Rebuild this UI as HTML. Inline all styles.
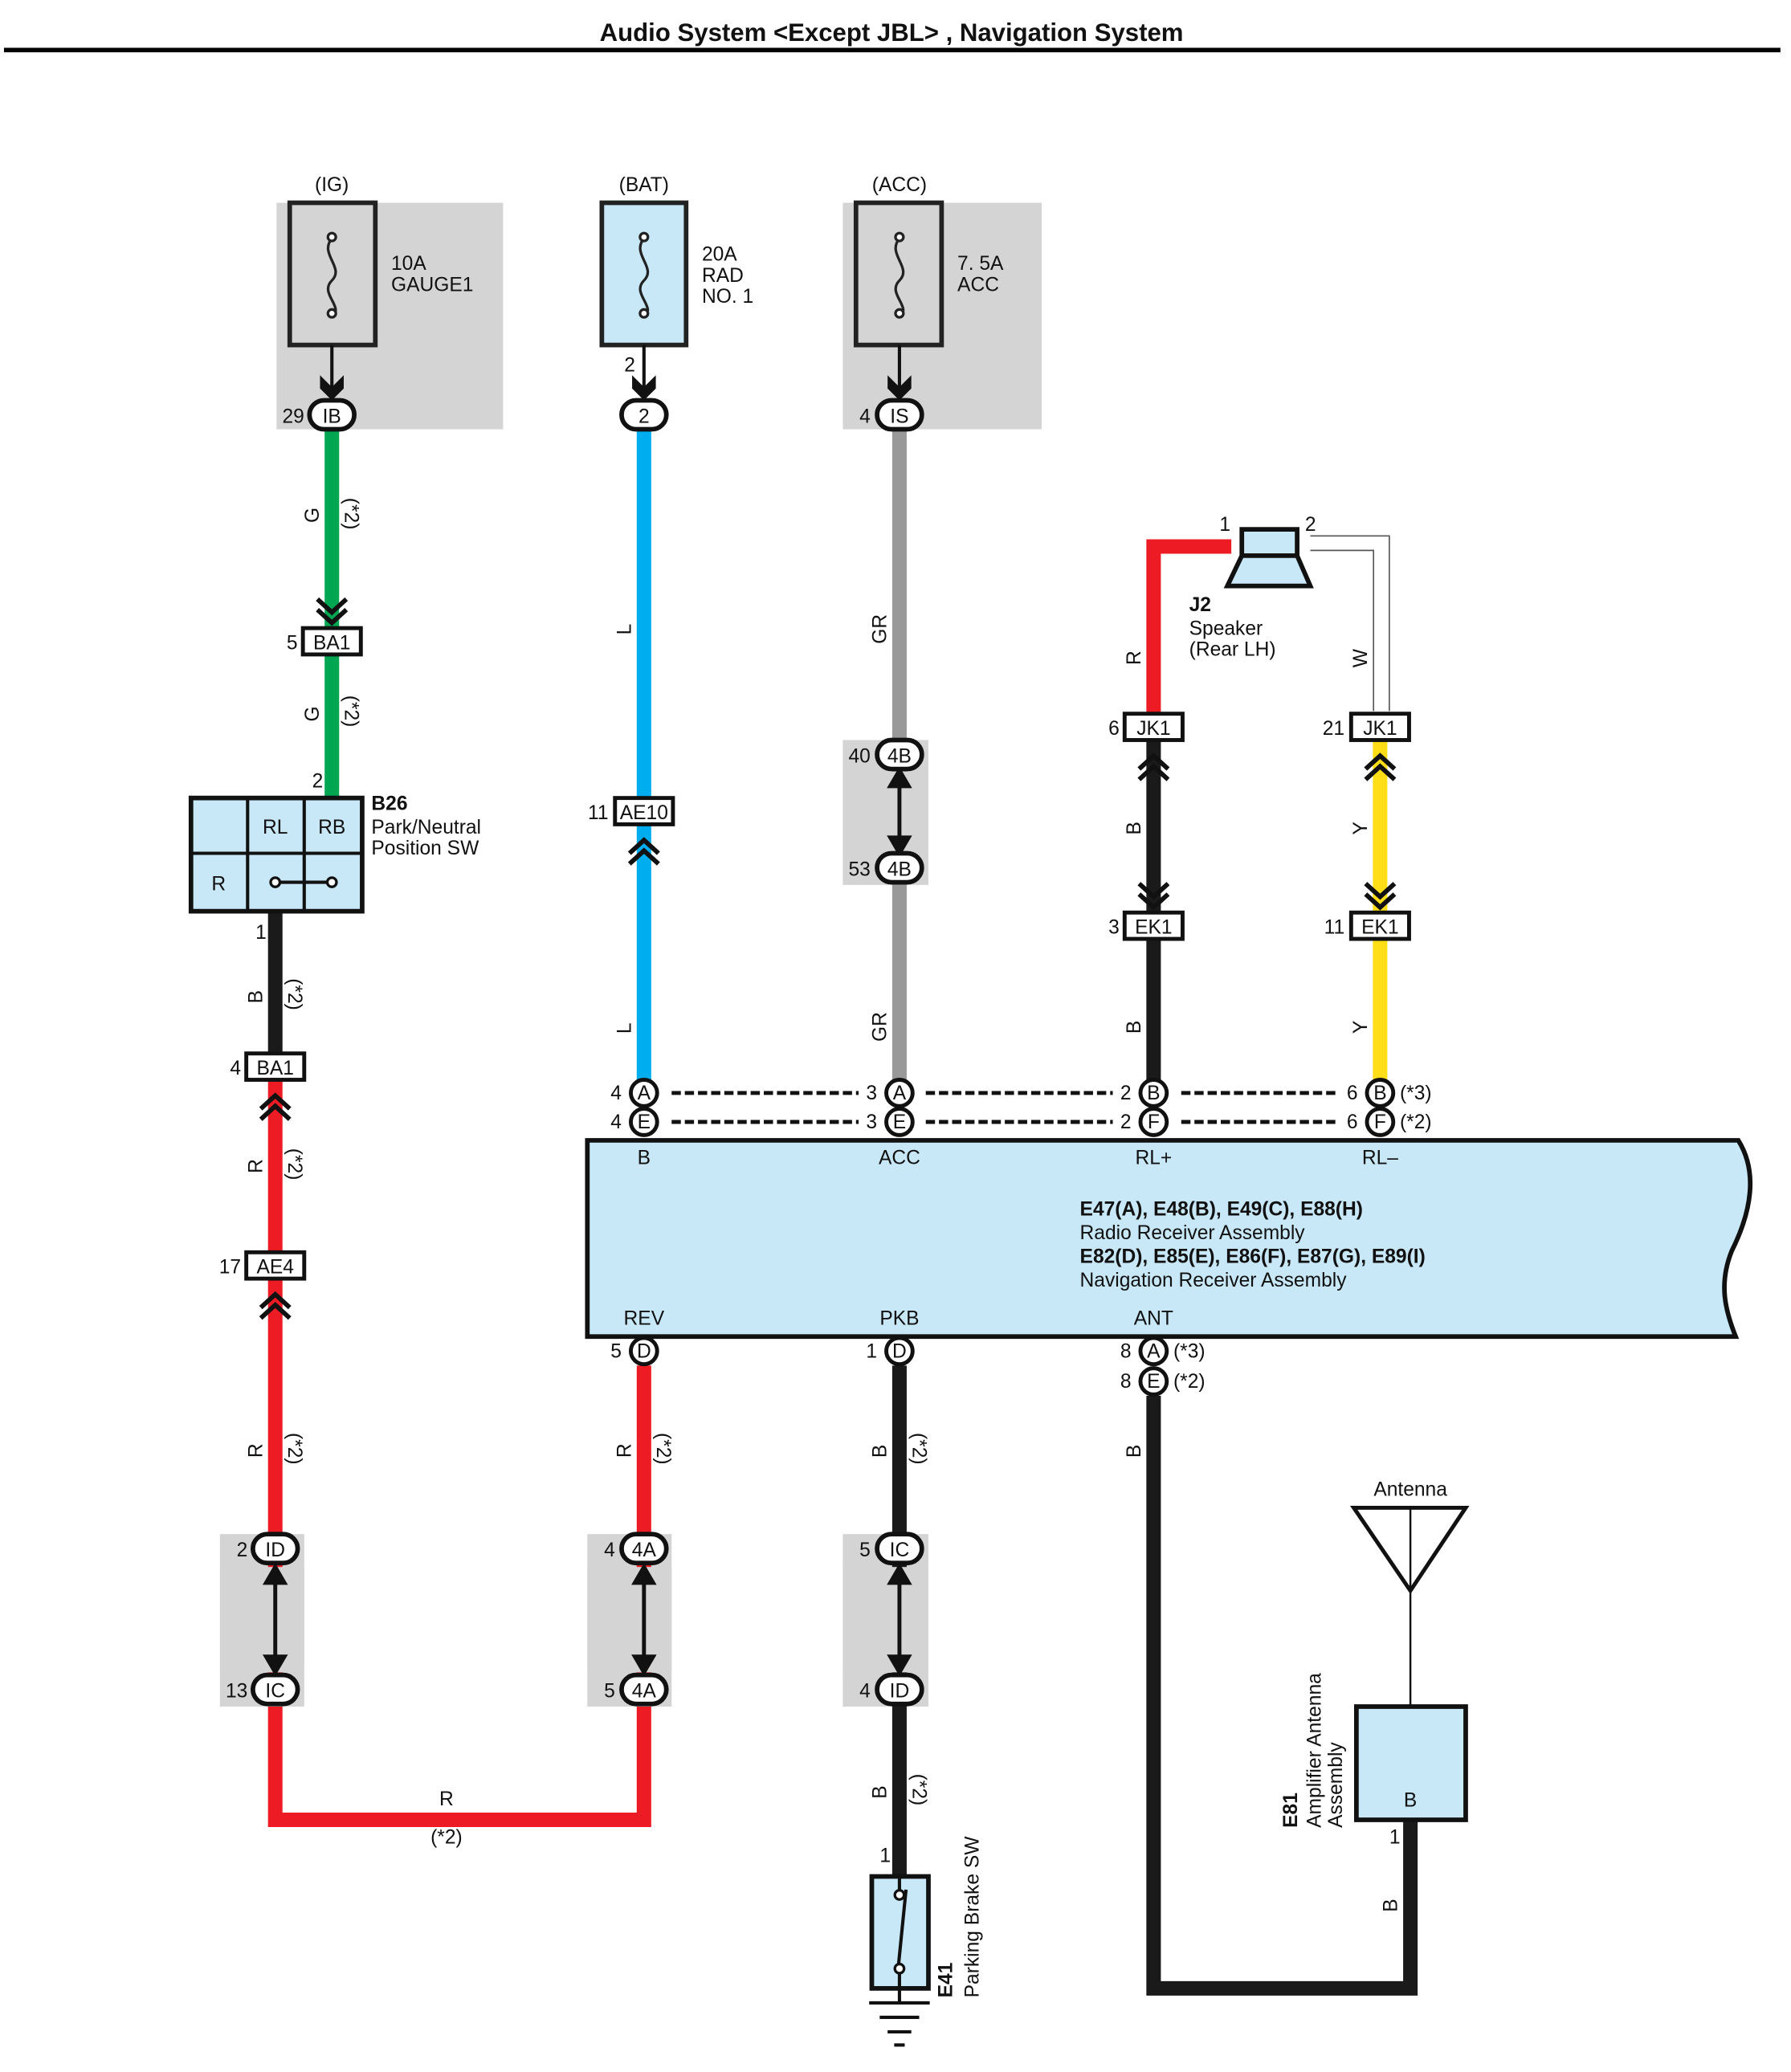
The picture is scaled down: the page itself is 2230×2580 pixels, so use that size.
<!DOCTYPE html>
<html><head><meta charset="utf-8"><style>
html,body{margin:0;padding:0;background:#fff}
svg{display:block}
text{font-family:"Liberation Sans",sans-serif;font-size:15px;fill:#111}
.b{font-weight:bold}
</style></head><body>
<svg width="2230" height="2580" viewBox="0 0 1360 1573.5" xmlns="http://www.w3.org/2000/svg">
<text x="677" y="31" text-anchor="middle" class="b" style="font-size:19px">Audio System &lt;Except JBL&gt; , Navigation System</text>
<line x1="3" y1="38" x2="1352" y2="38" stroke="#000" stroke-width="3.5"/>

<!-- gray backgrounds -->
<rect x="210" y="154" width="172" height="172" fill="#d4d4d4"/>
<rect x="640" y="154" width="151" height="172" fill="#d4d4d4"/>
<rect x="640" y="562" width="65" height="110" fill="#d4d4d4"/>
<rect x="167" y="1165" width="64" height="131" fill="#d4d4d4"/>
<rect x="446" y="1165" width="64" height="131" fill="#d4d4d4"/>
<rect x="640" y="1165" width="65" height="131" fill="#d4d4d4"/>

<!-- fuses -->
<g stroke="#222" stroke-width="3.5">
<rect x="220" y="154" width="65" height="108" fill="none"/>
<rect x="457" y="154" width="64" height="108" fill="#c8e8f8"/>
<rect x="650" y="154" width="65" height="108" fill="none"/>
</g>
<g fill="none" stroke="#222" stroke-width="2">
<path d="M252,181 c-10,12 10,22 0,32 c-10,10 10,20 0,28"/>
<path d="M489,181 c-10,12 10,22 0,32 c-10,10 10,20 0,28"/>
<path d="M683,181 c-10,12 10,22 0,32 c-10,10 10,20 0,28"/>
</g>
<g fill="#fff" stroke="#222" stroke-width="2"><circle cx="252" cy="180" r="3"/><circle cx="252" cy="238" r="3"/><circle cx="489" cy="180" r="3"/><circle cx="489" cy="238" r="3"/><circle cx="683" cy="180" r="3"/><circle cx="683" cy="238" r="3"/></g>
<text x="252" y="145" text-anchor="middle">(IG)</text>
<text x="489" y="145" text-anchor="middle">(BAT)</text>
<text x="683" y="145" text-anchor="middle">(ACC)</text>
<text x="297" y="205">10A</text><text x="297" y="221">GAUGE1</text>
<text x="533" y="198">20A</text><text x="533" y="214">RAD</text><text x="533" y="230">NO. 1</text>
<text x="727" y="205">7. 5A</text><text x="727" y="221">ACC</text>

<!-- fuse to connector arrows -->
<g stroke="#111" stroke-width="2.5"><line x1="252" y1="262" x2="252" y2="300"/><line x1="489" y1="262" x2="489" y2="300"/><line x1="683" y1="262" x2="683" y2="300"/></g>
<g fill="#111"><path d="M243,285 l9,9 l9,-9 v10 l-9,9 l-9,-9z"/><path d="M480,285 l9,9 l9,-9 v10 l-9,9 l-9,-9z"/><path d="M674,285 l9,9 l9,-9 v10 l-9,9 l-9,-9z"/></g>
<text x="474" y="282">2</text>

<!-- wires -->
<g fill="none" stroke-width="11">
<line x1="252" y1="326" x2="252" y2="606" stroke="#00a651"/>
<line x1="489" y1="326" x2="489" y2="820" stroke="#00aeef"/>
<line x1="683" y1="326" x2="683" y2="820" stroke="#999"/>
<line x1="209" y1="692" x2="209" y2="800" stroke="#1a1a1a"/>
<line x1="209" y1="820" x2="209" y2="1165" stroke="#ed1c24"/>
<path d="M209,1296 V1382 H489 V1296" stroke="#ed1c24"/>
<line x1="489" y1="1037" x2="489" y2="1165" stroke="#ed1c24"/>
<line x1="209" y1="1180" x2="209" y2="1290" stroke="#ed1c24"/>
<line x1="489" y1="1180" x2="489" y2="1290" stroke="#ed1c24"/>
<path d="M876,542 V415 H935" stroke="#ed1c24"/>
<line x1="876" y1="562" x2="876" y2="820" stroke="#1a1a1a"/>
<line x1="1048" y1="562" x2="1048" y2="820" stroke="#ffde17"/>
<line x1="683" y1="1037" x2="683" y2="1425" stroke="#1a1a1a"/>
<path d="M876,1060 V1510 H1071 V1382" stroke="#1a1a1a"/>
</g>
<!-- gray backgrounds over wires (link segments) -->
<rect x="446" y="1190" width="64" height="80" fill="#d4d4d4"/>
<rect x="167" y="1190" width="64" height="80" fill="#d4d4d4"/>
<rect x="640" y="1190" width="65" height="80" fill="#d4d4d4"/>
<rect x="640" y="586" width="65" height="62" fill="#d4d4d4"/>
<!-- double arrow links -->
<g stroke="#111" stroke-width="3" fill="#111">
<line x1="209" y1="1195" x2="209" y2="1265"/><line x1="489" y1="1195" x2="489" y2="1265"/><line x1="683" y1="1195" x2="683" y2="1265"/><line x1="683" y1="590" x2="683" y2="643"/>
<path d="M202,1202 l7,-12 l7,12z M202,1258 l7,12 l7,-12z"/>
<path d="M482,1202 l7,-12 l7,12z M482,1258 l7,12 l7,-12z"/>
<path d="M676,1202 l7,-12 l7,12z M676,1258 l7,12 l7,-12z"/>
<path d="M676,597 l7,-12 l7,12z M676,636 l7,12 l7,-12z"/>
</g>
<!-- thin W wires -->
<g fill="none" stroke="#555" stroke-width="1"><path d="M995,407 H1055 V540"/><path d="M995,418 H1043 V540"/></g>

<!-- oval connectors -->
<g fill="#fff" stroke="#111" stroke-width="3.5">
<rect x="235" y="304" width="34" height="22" rx="11"/>
<rect x="472" y="304" width="34" height="22" rx="11"/>
<rect x="666" y="304" width="34" height="22" rx="11"/>
<rect x="666" y="562" width="34" height="22" rx="11"/>
<rect x="666" y="648" width="34" height="22" rx="11"/>
<rect x="192" y="1165" width="34" height="22" rx="11"/>
<rect x="192" y="1272" width="34" height="22" rx="11"/>
<rect x="472" y="1165" width="34" height="22" rx="11"/>
<rect x="472" y="1272" width="34" height="22" rx="11"/>
<rect x="666" y="1165" width="34" height="22" rx="11"/>
<rect x="666" y="1272" width="34" height="22" rx="11"/>
</g>
<g text-anchor="middle">
<text x="252" y="321">IB</text><text x="489" y="321">2</text><text x="683" y="321">IS</text>
<text x="683" y="579">4B</text><text x="683" y="665">4B</text>
<text x="209" y="1182">ID</text><text x="209" y="1289">IC</text>
<text x="489" y="1182">4A</text><text x="489" y="1289">4A</text>
<text x="683" y="1182">IC</text><text x="683" y="1289">ID</text>
</g>
<g text-anchor="end">
<text x="231" y="321">29</text><text x="661" y="321">4</text>
<text x="661" y="579">40</text><text x="661" y="665">53</text>
<text x="188" y="1182">2</text><text x="188" y="1289">13</text>
<text x="467" y="1182">4</text><text x="467" y="1289">5</text>
<text x="661" y="1182">5</text><text x="661" y="1289">4</text>
</g>

<!-- rect connectors -->
<g fill="#fff" stroke="#111" stroke-width="3">
<rect x="230" y="477" width="44" height="20"/>
<rect x="187" y="800" width="44" height="20"/>
<rect x="187" y="951" width="44" height="20"/>
<rect x="467" y="606" width="44" height="20"/>
<rect x="854" y="542" width="44" height="20"/>
<rect x="1026" y="542" width="44" height="20"/>
<rect x="854" y="693" width="44" height="20"/>
<rect x="1026" y="693" width="44" height="20"/>
</g>
<g text-anchor="middle">
<text x="252" y="493">BA1</text><text x="209" y="816">BA1</text><text x="209" y="967">AE4</text><text x="489" y="622">AE10</text>
<text x="876" y="558">JK1</text><text x="1048" y="558">JK1</text><text x="876" y="709">EK1</text><text x="1048" y="709">EK1</text>
</g>
<g text-anchor="end">
<text x="226" y="493">5</text><text x="183" y="816">4</text><text x="183" y="967">17</text><text x="462" y="622">11</text>
<text x="850" y="558">6</text><text x="1021" y="558">21</text><text x="850" y="709">3</text><text x="1021" y="709">11</text>
</g>
<!-- chevrons -->
<g fill="none" stroke="#111" stroke-width="3.5">
<path d="M241,455 l11,10 l11,-10 M241,463 l11,10 l11,-10"/>
<path d="M198,842 l11,-10 l11,10 M198,850 l11,-10 l11,10"/>
<path d="M198,993 l11,-10 l11,10 M198,1001 l11,-10 l11,10"/>
<path d="M478,648 l11,-10 l11,10 M478,656 l11,-10 l11,10"/>
<path d="M865,584 l11,-10 l11,10 M865,592 l11,-10 l11,10"/>
<path d="M1037,584 l11,-10 l11,10 M1037,592 l11,-10 l11,10"/>
<path d="M865,671 l11,10 l11,-10 M865,679 l11,10 l11,-10"/>
<path d="M1037,671 l11,10 l11,-10 M1037,679 l11,10 l11,-10"/>
</g>

<!-- B26 -->
<rect x="145" y="606" width="130" height="86" fill="#c8e8f8" stroke="#111" stroke-width="3.5"/>
<g stroke="#111" stroke-width="2.5"><line x1="188" y1="606" x2="188" y2="692"/><line x1="231" y1="606" x2="231" y2="692"/><line x1="145" y1="648" x2="275" y2="648"/><line x1="209" y1="670" x2="252" y2="670"/></g>
<g fill="#fff" stroke="#111" stroke-width="2"><circle cx="209" cy="670" r="3.5"/><circle cx="252" cy="670" r="3.5"/></g>
<text x="209" y="633" text-anchor="middle">RL</text><text x="252" y="633" text-anchor="middle">RB</text><text x="166" y="676" text-anchor="middle">R</text>
<text x="237" y="598">2</text><text x="194" y="713">1</text>
<text x="282" y="615" class="b">B26</text><text x="282" y="633">Park/Neutral</text><text x="282" y="649">Position SW</text>

<!-- main box -->
<path d="M446,866 H1320 C1335,890 1330,920 1315,950 C1305,975 1310,995 1318,1015 H446 Z" fill="#c8e8f8" stroke="#111" stroke-width="3.5"/>
<text x="489" y="884" text-anchor="middle">B</text><text x="683" y="884" text-anchor="middle">ACC</text><text x="876" y="884" text-anchor="middle">RL+</text><text x="1048" y="884" text-anchor="middle">RL–</text>
<text x="820" y="923" class="b">E47(A), E48(B), E49(C), E88(H)</text>
<text x="820" y="941">Radio Receiver Assembly</text>
<text x="820" y="959" class="b">E82(D), E85(E), E86(F), E87(G), E89(I)</text>
<text x="820" y="977">Navigation Receiver Assembly</text>
<text x="489" y="1006" text-anchor="middle">REV</text><text x="683" y="1006" text-anchor="middle">PKB</text><text x="876" y="1006" text-anchor="middle">ANT</text>

<!-- dashed -->
<g stroke="#111" stroke-width="3" stroke-dasharray="7,3"><line x1="510" y1="830" x2="652" y2="830"/><line x1="703" y1="830" x2="845" y2="830"/><line x1="897" y1="830" x2="1017" y2="830"/><line x1="510" y1="852" x2="652" y2="852"/><line x1="703" y1="852" x2="845" y2="852"/><line x1="897" y1="852" x2="1017" y2="852"/></g>
<!-- pin circles -->
<g fill="#fff" stroke="#111" stroke-width="3">
<circle cx="489" cy="830" r="10"/><circle cx="683" cy="830" r="10"/><circle cx="876" cy="830" r="10"/><circle cx="1048" cy="830" r="10"/>
<circle cx="489" cy="852" r="10"/><circle cx="683" cy="852" r="10"/><circle cx="876" cy="852" r="10"/><circle cx="1048" cy="852" r="10"/>
<circle cx="489" cy="1026" r="10"/><circle cx="683" cy="1026" r="10"/><circle cx="876" cy="1026" r="10"/><circle cx="876" cy="1049" r="10"/>
</g>
<g text-anchor="middle" style="font-size:14px">
<text x="489" y="835">A</text><text x="683" y="835">A</text><text x="876" y="835">B</text><text x="1048" y="835">B</text>
<text x="489" y="857">E</text><text x="683" y="857">E</text><text x="876" y="857">F</text><text x="1048" y="857">F</text>
<text x="489" y="1031">D</text><text x="683" y="1031">D</text><text x="876" y="1031">A</text><text x="876" y="1054">E</text>
</g>
<g text-anchor="end">
<text x="472" y="835">4</text><text x="666" y="835">3</text><text x="859" y="835">2</text><text x="1031" y="835">6</text>
<text x="472" y="857">4</text><text x="666" y="857">3</text><text x="859" y="857">2</text><text x="1031" y="857">6</text>
<text x="472" y="1031">5</text><text x="666" y="1031">1</text><text x="859" y="1031">8</text><text x="859" y="1054">8</text>
</g>
<text x="1063" y="835">(*3)</text><text x="1063" y="857">(*2)</text><text x="891" y="1031">(*3)</text><text x="891" y="1054">(*2)</text>

<!-- speaker -->
<rect x="943" y="402" width="42" height="20" fill="#c8e8f8" stroke="#111" stroke-width="3.5"/>
<path d="M943,422 H985 L995,445 H932 Z" fill="#c8e8f8" stroke="#111" stroke-width="3.5"/>
<text x="926" y="403">1</text><text x="991" y="403">2</text>
<text x="903" y="464" class="b">J2</text><text x="903" y="482">Speaker</text><text x="903" y="498">(Rear LH)</text>

<!-- wire labels rotated -->
<g style="font-size:14px">
<text transform="translate(242,397) rotate(-90)">G</text>
<text transform="translate(242,548) rotate(-90)">G</text>
<text transform="translate(199,762) rotate(-90)">B</text>
<text transform="translate(199,891) rotate(-90)">R</text>
<text transform="translate(199,1107) rotate(-90)">R</text>
<text transform="translate(479,482) rotate(-90)">L</text>
<text transform="translate(479,785) rotate(-90)">L</text>
<text transform="translate(673,489) rotate(-90)">GR</text>
<text transform="translate(673,791) rotate(-90)">GR</text>
<text transform="translate(866,505) rotate(-90)">R</text>
<text transform="translate(866,634) rotate(-90)">B</text>
<text transform="translate(866,785) rotate(-90)">B</text>
<text transform="translate(1038,507) rotate(-90)">W</text>
<text transform="translate(1038,634) rotate(-90)">Y</text>
<text transform="translate(1038,785) rotate(-90)">Y</text>
<text transform="translate(479,1107) rotate(-90)">R</text>
<text transform="translate(673,1107) rotate(-90)">B</text>
<text transform="translate(673,1366) rotate(-90)">B</text>
<text transform="translate(866,1107) rotate(-90)">B</text>
<text transform="translate(1061,1452) rotate(-90)">B</text>
<text transform="translate(262,378) rotate(90)">(*2)</text>
<text transform="translate(262,528) rotate(90)">(*2)</text>
<text transform="translate(219,743) rotate(90)">(*2)</text>
<text transform="translate(219,872) rotate(90)">(*2)</text>
<text transform="translate(219,1088) rotate(90)">(*2)</text>
<text transform="translate(499,1088) rotate(90)">(*2)</text>
<text transform="translate(693,1088) rotate(90)">(*2)</text>
<text transform="translate(693,1347) rotate(90)">(*2)</text>
</g>
<text x="339" y="1371" text-anchor="middle">R</text><text x="339" y="1400" text-anchor="middle">(*2)</text>

<!-- parking brake sw -->
<rect x="662" y="1425" width="43" height="85" fill="#c8e8f8" stroke="#111" stroke-width="3.5"/>
<g stroke="#111" stroke-width="2.5"><line x1="683" y1="1425" x2="683" y2="1437"/><line x1="688" y1="1435" x2="682" y2="1495"/><line x1="683" y1="1497" x2="683" y2="1520"/><line x1="660" y1="1521" x2="706" y2="1521"/><line x1="668" y1="1532" x2="698" y2="1532"/><line x1="674" y1="1543" x2="692" y2="1543"/><line x1="679" y1="1553" x2="687" y2="1553"/></g>
<g fill="#fff" stroke="#111" stroke-width="2"><circle cx="683" cy="1439" r="3.5"/><circle cx="683" cy="1495" r="3.5"/></g>
<text x="668" y="1414">1</text>
<text transform="translate(723,1517) rotate(-90)" class="b">E41</text>
<text transform="translate(743,1517) rotate(-90)">Parking Brake SW</text>

<!-- antenna -->
<text x="1071" y="1136" text-anchor="middle">Antenna</text>
<path d="M1028,1145 H1113 L1071,1208 Z" fill="none" stroke="#111" stroke-width="3"/>
<line x1="1071" y1="1145" x2="1071" y2="1296" stroke="#111" stroke-width="1.5"/>
<rect x="1030" y="1296" width="83" height="86" fill="#c8e8f8" stroke="#111" stroke-width="3.5"/>
<text x="1071" y="1372" text-anchor="middle">B</text>
<text x="1055" y="1400">1</text>
<text transform="translate(985,1388) rotate(-90)" class="b">E81</text>
<text transform="translate(1003,1388) rotate(-90)">Amplifier Antenna</text>
<text transform="translate(1019,1388) rotate(-90)">Assembly</text>
</svg>
</body></html>
